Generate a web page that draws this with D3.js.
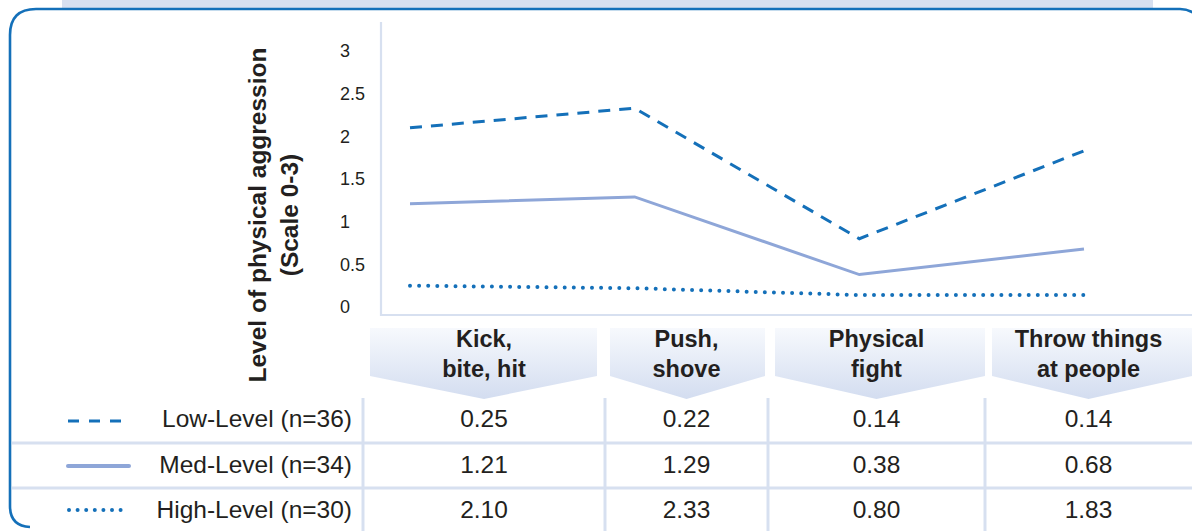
<!DOCTYPE html>
<html>
<head>
<meta charset="utf-8">
<script src="https://cdn.jsdelivr.net/npm/d3@7"></script>
<style>
  html, body { margin: 0; padding: 0; background: #fff; }
  svg { display: block; font-family: "Liberation Sans", Arial, Helvetica, sans-serif; }
</style>
</head>
<body>
<svg id="chart" width="1192" height="531"></svg>
<script>
// Behaviour categories (header lines) and mean scores per group
const categories = ["Kick, bite, hit", "Push, shove", "Physical fight", "Throw things at people"];
const categoryLines = [["Kick,", "bite, hit"], ["Push,", "shove"], ["Physical", "fight"], ["Throw things", "at people"]];
const lowValues  = [0.25, 0.22, 0.14, 0.14];
const medValues  = [1.21, 1.29, 0.38, 0.68];
const highValues = [2.10, 2.33, 0.80, 1.83];
const groupLabels = ["Low-Level (n=36)", "Med-Level (n=34)", "High-Level (n=30)"];
const yTicks = [0, 0.5, 1, 1.5, 2, 2.5, 3];

const svg = d3.select("#chart");
const BLUE = "#1470b9", LIGHT = "#d7e0f0", MED = "#8ea6d8", TEXT = "#231f20";

// Top band and rounded frame
svg.append("rect").attr("x", 62).attr("y", 0).attr("width", 1091).attr("height", 8).attr("fill", LIGHT);
svg.append("path")
  .attr("d", "M1215,40 Q1200,9 1180,9 L36,9 Q10,9 10,35 L10,506 Q10,526 30,527")
  .attr("fill", "none").attr("stroke", BLUE).attr("stroke-width", 2.6);

// Scales
const x = d3.scalePoint().domain(categories).range([410, 1084]);
const y = d3.scaleLinear().domain([0, 3]).range([307, 51]);

// Plot area border (left and bottom)
svg.append("path").attr("d", "M381,22 L381,315 L1192,315")
  .attr("fill", "none").attr("stroke", LIGHT).attr("stroke-width", 2.2);

// Y axis
const yAxis = d3.axisLeft(y).tickValues(yTicks).tickSize(0).tickPadding(0)
  .tickFormat(d => Number.isInteger(d) ? String(d) : d.toFixed(1));
const gy = svg.append("g").attr("transform", "translate(340,0)").call(yAxis);
gy.select(".domain").remove();
gy.selectAll("text").attr("text-anchor", "start").attr("x", 0)
  .attr("font-size", 18).attr("fill", TEXT).attr("font-family", "Liberation Sans, Arial, sans-serif");

// Y axis title
const yt = svg.append("text").attr("transform", "translate(266,215) rotate(-90)")
  .attr("text-anchor", "middle").attr("font-size", 24.5).attr("font-weight", "bold").attr("fill", TEXT);
yt.append("tspan").attr("x", 0).attr("dy", 0).text("Level of physical aggression");
yt.append("tspan").attr("x", 0).attr("dy", 32).text("(Scale 0-3)");

// Lines
const line = d3.line().x((d, i) => x(categories[i])).y(d => y(d));
svg.append("path").datum(highValues).attr("d", line).attr("fill", "none")
  .attr("stroke", BLUE).attr("stroke-width", 3).attr("stroke-dasharray", "12,9");
svg.append("path").datum(medValues).attr("d", line).attr("fill", "none")
  .attr("stroke", MED).attr("stroke-width", 3);
svg.append("path").datum(lowValues).attr("d", line).attr("fill", "none")
  .attr("stroke", BLUE).attr("stroke-width", 4).attr("stroke-linecap", "round").attr("stroke-dasharray", "0,9.1");

// Chevron headers with vertical gradient
const defs = svg.append("defs");
const grad = defs.append("linearGradient").attr("id", "hdr").attr("x1", 0).attr("y1", 0).attr("x2", 0).attr("y2", 1);
grad.append("stop").attr("offset", "0%").attr("stop-color", "#f7f9fd");
grad.append("stop").attr("offset", "100%").attr("stop-color", "#d3ddf0");

const headerCols = [[370, 597], [610, 765], [775, 985], [992, 1192]];
const colBounds = [363, 605, 768, 985, 1192];
const colCenters = colBounds.slice(0, 4).map((b, i) => (b + colBounds[i + 1]) / 2);

headerCols.forEach(([l, r], i) => {
  const mid = colCenters[i];
  svg.append("path")
    .attr("d", `M${l},328 L${r},328 L${r},376 L${mid},399 L${l},376 Z`)
    .attr("fill", "url(#hdr)");
  const t = svg.append("text").attr("x", mid).attr("y", 347).attr("text-anchor", "middle")
    .attr("font-size", 23.5).attr("font-weight", "bold").attr("fill", TEXT);
  categoryLines[i].forEach((s, k) => t.append("tspan").attr("x", mid).attr("dy", k === 0 ? 0 : 30).text(s));
});

// Table grid
[443, 488].forEach(yy => svg.append("line").attr("x1", 12).attr("x2", 1192).attr("y1", yy).attr("y2", yy)
  .attr("stroke", LIGHT).attr("stroke-width", 3));
colBounds.slice(0, 4).forEach(xx => svg.append("line").attr("x1", xx).attr("x2", xx).attr("y1", 398).attr("y2", 531)
  .attr("stroke", LIGHT).attr("stroke-width", 3));

// Table rows: legend label and values
const rows = [lowValues, medValues, highValues];
const rowY = [418, 464, 509];
rows.forEach((vals, r) => {
  svg.append("text").attr("x", 352).attr("y", rowY[r] + 8.5).attr("text-anchor", "end")
    .attr("font-size", 24.5).attr("fill", TEXT).text(groupLabels[r]);
  vals.forEach((v, i) => svg.append("text").attr("x", colCenters[i]).attr("y", rowY[r] + 8.5)
    .attr("text-anchor", "middle").attr("font-size", 24.5).attr("fill", TEXT).text(v.toFixed(2)));
});
// Legend keys
svg.append("line").attr("x1", 68).attr("x2", 129).attr("y1", 421).attr("y2", 421)
  .attr("stroke", BLUE).attr("stroke-width", 3).attr("stroke-dasharray", "11,10");
svg.append("line").attr("x1", 68).attr("x2", 129).attr("y1", 466).attr("y2", 466)
  .attr("stroke", MED).attr("stroke-width", 4).attr("stroke-linecap", "round");
svg.append("line").attr("x1", 69).attr("x2", 129).attr("y1", 510).attr("y2", 510)
  .attr("stroke", BLUE).attr("stroke-width", 4).attr("stroke-linecap", "round").attr("stroke-dasharray", "0,8.6");
</script>
</body>
</html>
